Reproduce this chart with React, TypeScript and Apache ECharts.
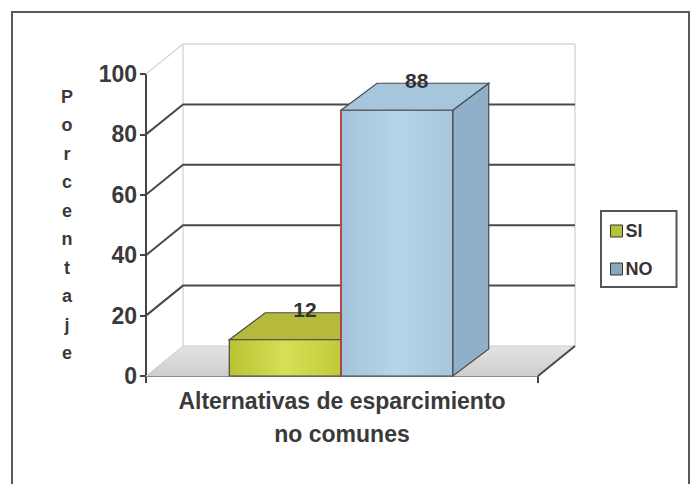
import React, { useEffect, useRef } from "react";
import * as echarts from "echarts";

const categories = ["Alternativas de esparcimiento\nno comunes"];
const seriesNames = ["SI", "NO"];
const siValues = [12];
const noValues = [88];
const yTicks = [0, 20, 40, 60, 80, 100];
const yAxisTitle = "Porcentaje";

const WALL_DX = 37;
const WALL_DY = -30;
const BAR_DX = 36;
const BAR_DY = -27;
const FONT = "Arial, 'Liberation Sans', sans-serif";

function makeBarRender(offsetIndex: number, colors: any) {
  return (params: any, api: any) => {
    const v = api.value(1);
    const base = api.coord([api.value(0), 0]);
    const top = api.coord([api.value(0), v]);
    const band = api.size([1, 0])[0];
    const bw = band * 0.285;
    const cx = base[0];
    const x0 = offsetIndex === 0 ? cx - bw - 1 : cx - 1;
    const x1 = x0 + bw;
    const yb = base[1];
    const yt = top[1];
    const stroke = "#4a4a4a";
    const children: any[] = [
      {
        type: "polygon",
        shape: { points: [[x1, yt], [x1 + BAR_DX, yt + BAR_DY], [x1 + BAR_DX, yb + BAR_DY], [x1, yb]] },
        style: { fill: colors.side, stroke, lineWidth: 1.2 },
      },
      {
        type: "polygon",
        shape: { points: [[x0, yt], [x0 + BAR_DX, yt + BAR_DY], [x1 + BAR_DX, yt + BAR_DY], [x1, yt]] },
        style: { fill: colors.top, stroke, lineWidth: 1.2 },
      },
      {
        type: "rect",
        shape: { x: x0, y: yt, width: bw, height: yb - yt },
        style: {
          fill: new echarts.graphic.LinearGradient(0, 0, 1, 0, colors.front),
          stroke,
          lineWidth: 1.2,
        },
      },
    ];
    if (colors.edge) {
      children.push({
        type: "line",
        shape: { x1: x0, y1: yt, x2: x0, y2: yb },
        style: { stroke: colors.edge, lineWidth: 1.5 },
      });
    }
    children.push({
      type: "text",
      style: {
        text: String(v),
        x: x0 + bw / 2 + BAR_DX * 0.55,
        y: yt + BAR_DY - 3,
        align: "center",
        verticalAlign: "middle",
        font: `bold 21px ${FONT}`,
        fill: "#333",
      },
    });
    return { type: "group", children };
  };
}

export default function App() {
  const ref = useRef<HTMLDivElement>(null);
  useEffect(() => {
    if (!ref.current) return;
    const chart = echarts.init(ref.current, null, { renderer: "svg" });
    const wallRender = (params: any, api: any) => {
      const cs = params.coordSys;
      const x0 = cs.x;
      const x1 = cs.x + cs.width;
      const v = api.value(1);
      const y = api.coord([0, v])[1];
      const children: any[] = [];
      if (v === yTicks[0]) {
        children.push({
          type: "polygon",
          shape: { points: [[x0, y], [x0 + WALL_DX, y + WALL_DY], [x1 + WALL_DX, y + WALL_DY], [x1, y]] },
          style: {
            fill: new echarts.graphic.LinearGradient(0, 0, 0, 1, [
              { offset: 0, color: "#e4e4e4" },
              { offset: 1, color: "#cdcdcd" },
            ]),
            stroke: "#d0d0d0",
            lineWidth: 1,
          },
        });
        children.push({
          type: "line",
          shape: { x1: x0 + WALL_DX, y1: y + WALL_DY, x2: x0 + WALL_DX, y2: cs.y + WALL_DY },
          style: { stroke: "#d8d8d8", lineWidth: 1.5 },
        });
        children.push({
          type: "line",
          shape: { x1: x1 + WALL_DX, y1: y + WALL_DY, x2: x1 + WALL_DX, y2: cs.y + WALL_DY },
          style: { stroke: "#d8d8d8", lineWidth: 1.5 },
        });
        children.push({
          type: "line",
          shape: { x1: x1, y1: y, x2: x1 + WALL_DX, y2: y + WALL_DY },
          style: { stroke: "#4a4a4a", lineWidth: 2 },
        });
      } else {
        const isTop = v === yTicks[yTicks.length - 1];
        children.push({
          type: "polyline",
          shape: { points: [[x0, y], [x0 + WALL_DX, y + WALL_DY], [x1 + WALL_DX, y + WALL_DY]] },
          style: { stroke: isTop ? "#d8d8d8" : "#4a4a4a", lineWidth: isTop ? 1.5 : 2, fill: "none" },
        });
      }
      return { type: "group", children };
    };

    chart.setOption({
      animation: false,
      backgroundColor: "#ffffff",
      graphic: [
        {
          type: "rect",
          shape: { x: 12, y: 12, width: 677, height: 480 },
          style: { fill: "none", stroke: "#5a5a5a", lineWidth: 2 },
          z: 0,
        },
      ],
      legend: {
        data: seriesNames,
        orient: "vertical",
        left: 601,
        top: 211,
        padding: [11, 24, 9, 9],
        itemGap: 20,
        itemWidth: 12,
        itemHeight: 12,
        icon: "rect",
        borderColor: "#555",
        borderWidth: 2,
        itemStyle: { borderColor: "#333", borderWidth: 1 },
        textStyle: { fontFamily: FONT, fontWeight: "bold", fontSize: 18, color: "#333", padding: [0, 0, 0, -2] },
      },
      grid: { left: 146, top: 74, width: 392, height: 302, containLabel: false },
      xAxis: {
        type: "category",
        data: categories,
        axisLine: { show: true, lineStyle: { color: "#444", width: 2 } },
        axisTick: { show: true, length: 7, lineStyle: { color: "#444", width: 2 } },
        axisLabel: {
          fontFamily: FONT,
          fontWeight: "bold",
          fontSize: 23,
          color: "#3a3a3a",
          lineHeight: 33,
          margin: 8,
        },
        splitLine: { show: false },
      },
      yAxis: {
        type: "value",
        min: 0,
        max: 100,
        interval: 20,
        name: yAxisTitle.split("").join("\n"),
        nameLocation: "middle",
        nameRotate: 0,
        nameGap: 79,
        nameTextStyle: {
          fontFamily: FONT,
          fontWeight: "bold",
          fontSize: 18,
          color: "#3a3a3a",
          lineHeight: 28.5,
          align: "center",
          verticalAlign: "middle",
          padding: [6, 0, 0, 0],
        },
        axisLine: { show: true, lineStyle: { color: "#444", width: 2 } },
        axisTick: { show: true, length: 6, lineStyle: { color: "#444", width: 2 } },
        axisLabel: {
          fontFamily: FONT,
          fontWeight: "bold",
          fontSize: 23,
          color: "#3a3a3a",
          margin: 9,
        },
        splitLine: { show: false },
      },
      series: [
        {
          type: "custom",
          name: "walls",
          renderItem: wallRender,
          data: yTicks.map((v) => [0, v]),
          z: 1,
          silent: true,
          legendHoverLink: false,
        },
        {
          type: "custom",
          name: seriesNames[0],
          renderItem: makeBarRender(0, {
            front: [
              { offset: 0, color: "#b9c232" },
              { offset: 0.5, color: "#d6df55" },
              { offset: 1, color: "#c2ca3a" },
            ],
            top: "#b6ba3c",
            side: "#a8ae30",
          }),
          itemStyle: { color: "#b8c236" },
          data: siValues.map((v) => [0, v]),
          z: 2,
        },
        {
          type: "custom",
          name: seriesNames[1],
          renderItem: makeBarRender(1, {
            front: [
              { offset: 0, color: "#a2c3da" },
              { offset: 0.5, color: "#b6d5e8" },
              { offset: 1, color: "#a6c6dc" },
            ],
            top: "#a6c6dc",
            side: "#8fb0c8",
            edge: "#c23a3a",
          }),
          itemStyle: { color: "#88a8bc" },
          data: noValues.map((v) => [0, v]),
          z: 3,
        },
      ],
    });
    return () => chart.dispose();
  }, []);
  return (
    <div
      ref={ref}
      style={{ position: "fixed", left: 0, top: 0, width: 693, height: 484 }}
    />
  );
}
